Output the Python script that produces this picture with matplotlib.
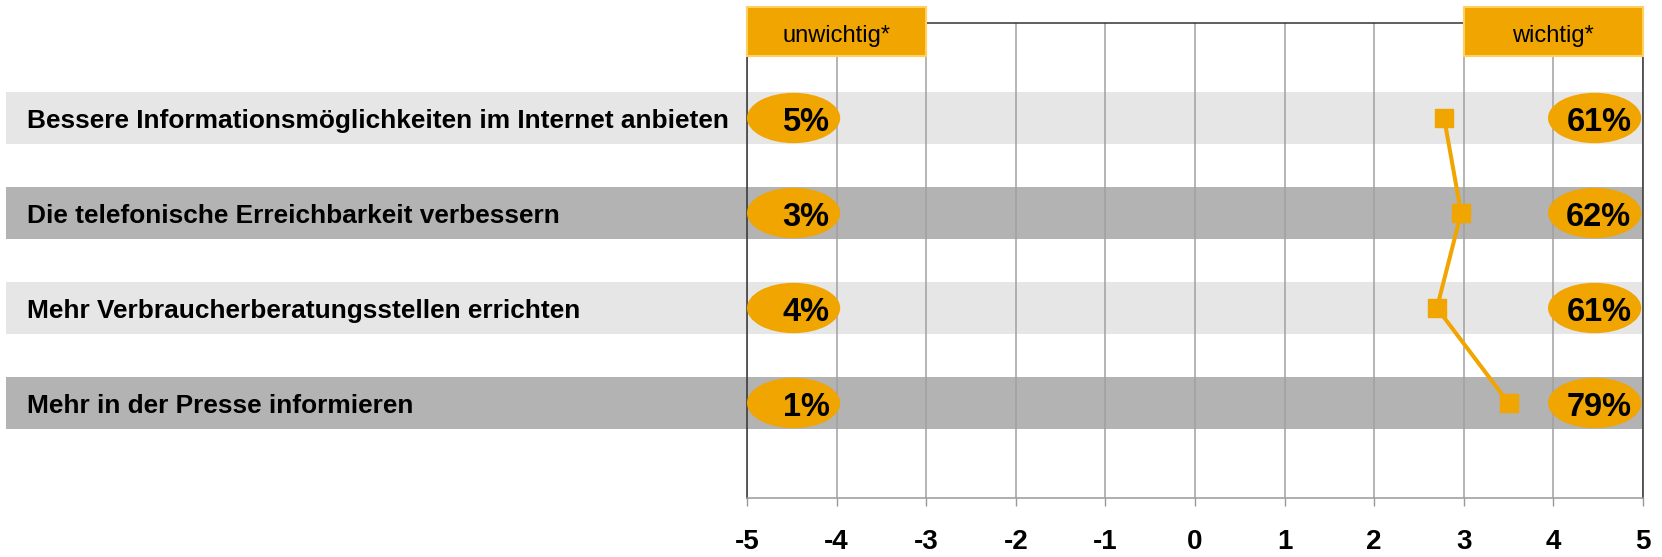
import matplotlib.pyplot as plt
from matplotlib.patches import Ellipse, Rectangle

# Daten
kategorien = [
    "Bessere Informationsmöglichkeiten im Internet anbieten",
    "Die telefonische Erreichbarkeit verbessern",
    "Mehr Verbraucherberatungsstellen errichten",
    "Mehr in der Presse informieren",
]
unwichtig_pct = [5, 3, 4, 1]
wichtig_pct = [61, 62, 61, 79]
mittelwert = [2.78, 2.97, 2.70, 3.50]
x_ticks = [-5, -4, -3, -2, -1, 0, 1, 2, 3, 4, 5]

ORANGE = "#F0A500"
plt.rcParams['font.family'] = ['Liberation Sans', 'DejaVu Sans']

fig = plt.figure(figsize=(16.62, 5.57), dpi=100)
ax = fig.add_axes([747 / 1662, 59 / 557, 896 / 1662, 475 / 557])

ax.set_xlim(-5, 5)
ax.set_ylim(5, 0)
pos = list(range(1, len(kategorien) + 1))

# Hintergrundbalken (abwechselnd hell / dunkel), reichen bis in den Labelbereich
for i, y in enumerate(pos):
    farbe = "#E6E6E6" if i % 2 == 0 else "#B3B3B3"
    ax.add_patch(Rectangle((-0.827, y - 0.27), 1.827, 0.54, transform=ax.get_yaxis_transform(),
                           facecolor=farbe, edgecolor="none", clip_on=False, zorder=0.2))
    ax.text(-0.804, y + 0.103, kategorien[i], transform=ax.get_yaxis_transform(), ha="left",
            va="baseline", fontsize=18.9, fontweight="bold", color="black")

# Gitter
ax.set_axisbelow(True)
ax.set_xticks(x_ticks)
ax.set_xticklabels([str(t) for t in x_ticks])
ax.xaxis.grid(True, color="#A0A0A0", linewidth=1.1)
ax.set_yticks([])
ax.tick_params(axis="x", direction="out", length=5.5, width=1, color="#999999", pad=17,
               labelsize=20)
for lab in ax.get_xticklabels():
    lab.set_fontweight("bold")

for s in ["top", "left", "right"]:
    ax.spines[s].set_color("#333333")
    ax.spines[s].set_linewidth(1.1)
ax.spines["bottom"].set_color("#999999")
ax.spines["bottom"].set_linewidth(1.1)

# Prozent-Ellipsen links und rechts
for y, u, w in zip(pos, unwichtig_pct, wichtig_pct):
    ax.add_patch(Ellipse((-4.48, y), 1.04, 0.53, facecolor=ORANGE, edgecolor="none",
                         zorder=3, clip_on=False))
    ax.add_patch(Ellipse((4.46, y), 1.04, 0.53, facecolor=ORANGE, edgecolor="none",
                         zorder=3, clip_on=False))
    ax.text(-4.48 + 0.4, y + 0.139, f"{u}%", ha="right", va="baseline", fontsize=23.5,
            fontweight="bold", zorder=4)
    ax.text(4.46 + 0.41, y + 0.139, f"{w}%", ha="right", va="baseline", fontsize=23.5,
            fontweight="bold", zorder=4)

# Mittelwertlinie
ax.plot(mittelwert, pos, color=ORANGE, linewidth=2.9, marker="s", markersize=13.5,
        zorder=5)

# Kopfboxen
for x0, text in [(-5, "unwichtig*"), (3, "wichtig*")]:
    ax.add_patch(Rectangle((x0, 0.931), 2, 0.103, transform=ax.get_xaxis_transform(),
                           facecolor=ORANGE, edgecolor="#FFD060", linewidth=1.5,
                           clip_on=False, zorder=6))
    ax.text(x0 + 1, 0.9606, text, transform=ax.get_xaxis_transform(), ha="center",
            va="baseline", fontsize=17, zorder=7)

fig.savefig("out.png", dpi=100)
